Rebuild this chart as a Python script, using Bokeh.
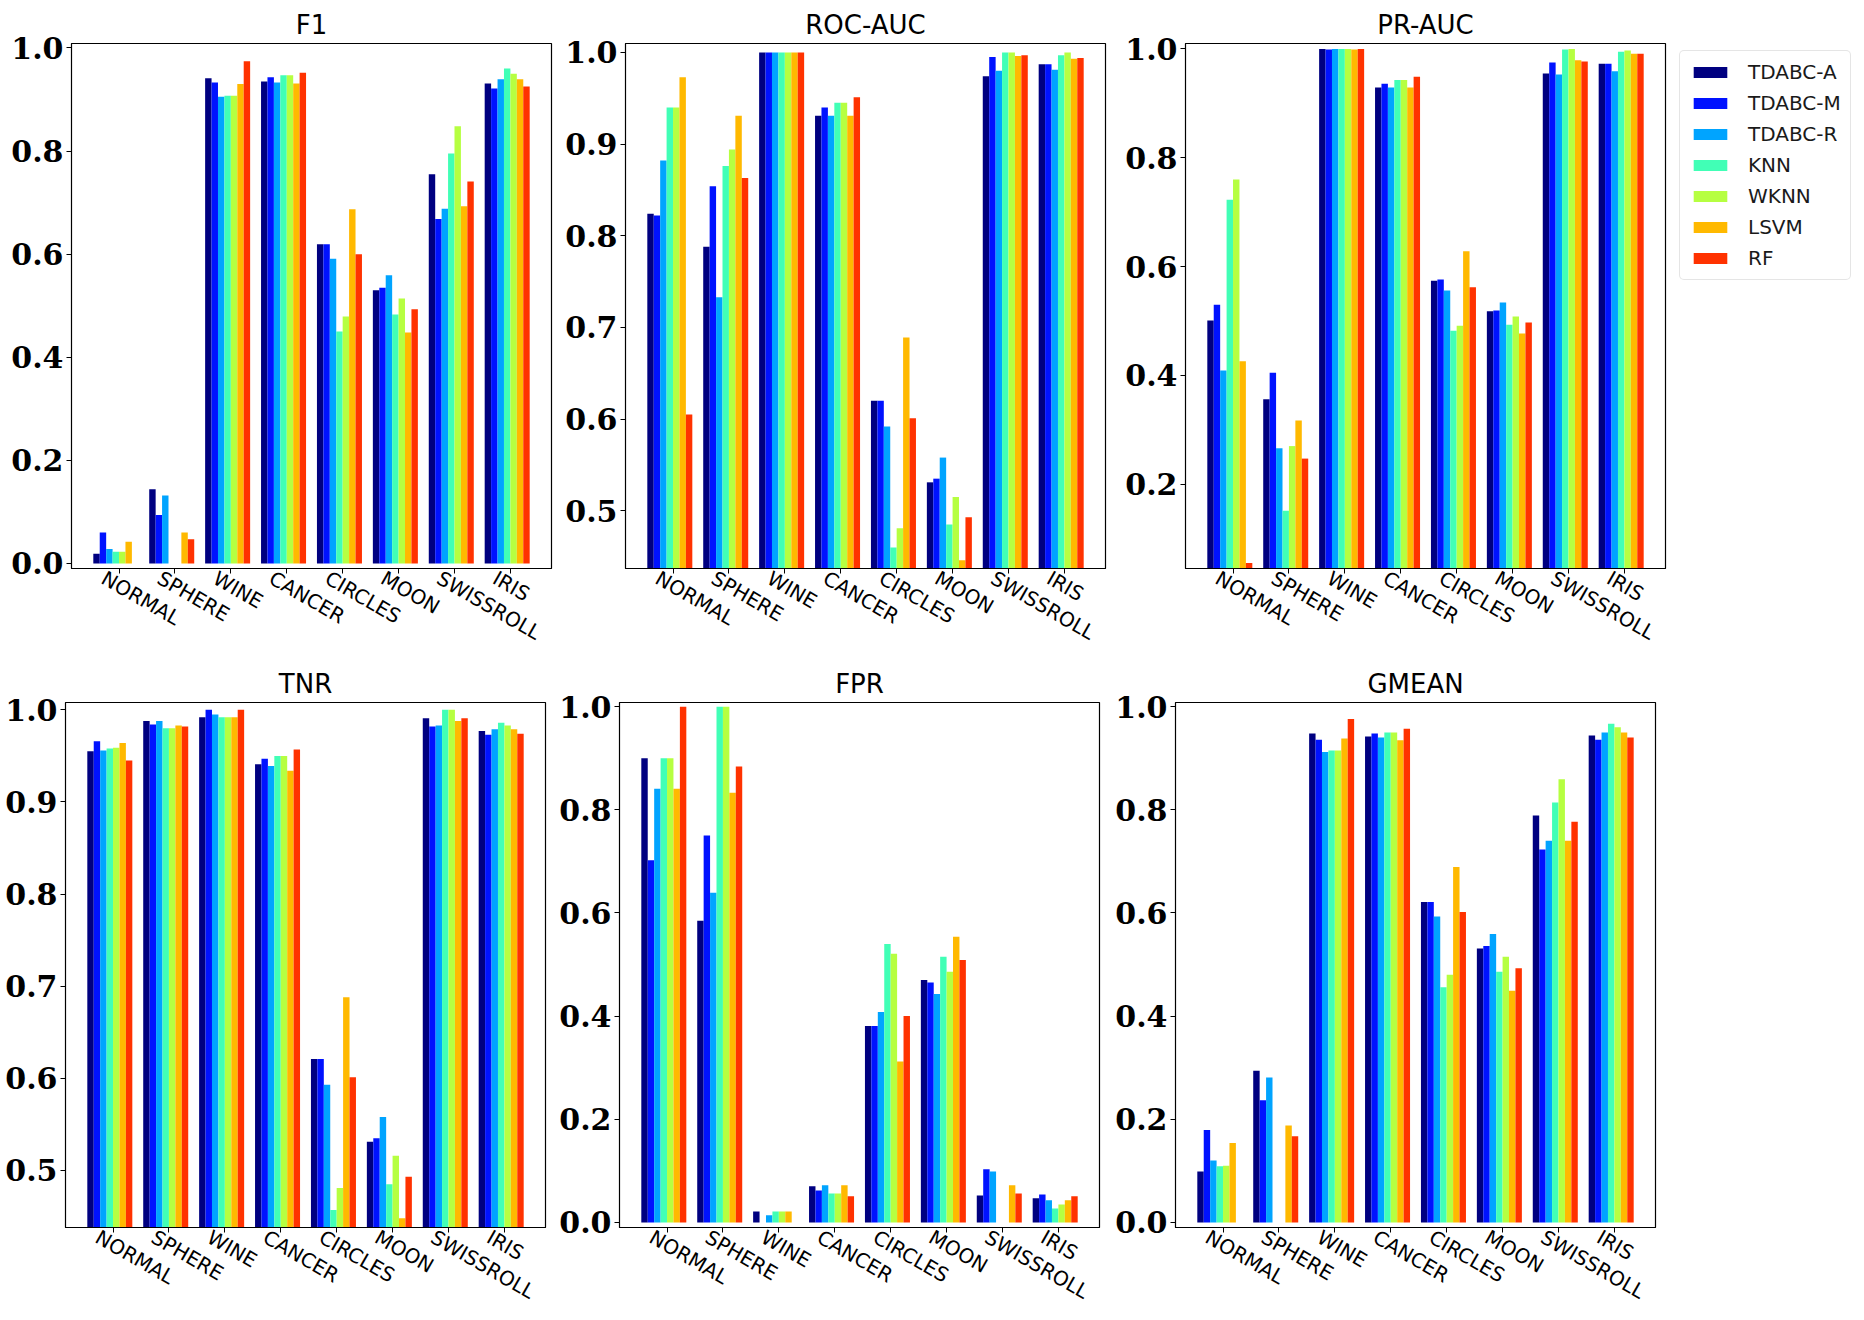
import math
from bokeh.plotting import figure
from bokeh.models import (ColumnDataSource, FixedTicker, PrintfTickFormatter,
                          Range1d, Legend, LegendItem)
from bokeh.layouts import row, column
from bokeh.embed import file_html
from bokeh.resources import INLINE

datasets = ["NORMAL", "SPHERE", "WINE", "CANCER", "CIRCLES", "MOON", "SWISSROLL", "IRIS"]
methods = ["TDABC-A", "TDABC-M", "TDABC-R", "KNN", "WKNN", "LSVM", "RF"]
colors = ["#000080", "#0012ff", "#00a4ff", "#41ffb6", "#b6ff41", "#ffb900", "#ff3200"]

# rows: datasets; columns: methods (TDABC-A, TDABC-M, TDABC-R, KNN, WKNN, LSVM, RF)
F1 = [
    [0.019, 0.060, 0.028, 0.023, 0.023, 0.042, 0.000],
    [0.144, 0.094, 0.132, 0.000, 0.000, 0.060, 0.047],
    [0.941, 0.933, 0.905, 0.907, 0.907, 0.930, 0.974],
    [0.935, 0.943, 0.933, 0.947, 0.947, 0.931, 0.952],
    [0.619, 0.619, 0.591, 0.450, 0.479, 0.687, 0.600],
    [0.530, 0.535, 0.559, 0.483, 0.514, 0.448, 0.493],
    [0.755, 0.668, 0.688, 0.795, 0.848, 0.693, 0.741],
    [0.931, 0.921, 0.939, 0.960, 0.950, 0.939, 0.925],
]
ROC_AUC = [
    [0.824, 0.822, 0.882, 0.940, 0.940, 0.973, 0.605],
    [0.788, 0.854, 0.733, 0.876, 0.894, 0.931, 0.863],
    [1.000, 1.000, 1.000, 1.000, 1.000, 1.000, 1.000],
    [0.931, 0.940, 0.931, 0.945, 0.945, 0.931, 0.951],
    [0.620, 0.620, 0.592, 0.460, 0.481, 0.689, 0.601],
    [0.531, 0.535, 0.558, 0.485, 0.515, 0.446, 0.493],
    [0.974, 0.995, 0.980, 1.000, 1.000, 0.996, 0.997],
    [0.987, 0.987, 0.981, 0.997, 1.000, 0.993, 0.994],
]
PR_AUC = [
    [0.501, 0.530, 0.409, 0.723, 0.760, 0.426, 0.055],
    [0.356, 0.405, 0.266, 0.151, 0.270, 0.317, 0.247],
    [1.000, 0.999, 1.000, 1.000, 1.000, 0.999, 1.000],
    [0.929, 0.936, 0.929, 0.943, 0.943, 0.929, 0.949],
    [0.574, 0.576, 0.556, 0.482, 0.491, 0.628, 0.562],
    [0.518, 0.519, 0.534, 0.493, 0.508, 0.477, 0.497],
    [0.955, 0.975, 0.953, 0.999, 1.000, 0.979, 0.977],
    [0.973, 0.973, 0.959, 0.995, 0.997, 0.991, 0.991],
]
TNR = [
    [0.955, 0.966, 0.956, 0.958, 0.959, 0.964, 0.945],
    [0.988, 0.984, 0.988, 0.980, 0.980, 0.983, 0.982],
    [0.992, 1.000, 0.995, 0.992, 0.992, 0.992, 1.000],
    [0.941, 0.947, 0.939, 0.950, 0.950, 0.934, 0.957],
    [0.621, 0.621, 0.593, 0.457, 0.481, 0.688, 0.601],
    [0.531, 0.535, 0.558, 0.485, 0.516, 0.448, 0.493],
    [0.991, 0.982, 0.983, 1.000, 1.000, 0.988, 0.991],
    [0.977, 0.973, 0.979, 0.986, 0.983, 0.979, 0.974],
]
FPR = [
    [0.900, 0.702, 0.841, 0.900, 0.900, 0.841, 1.000],
    [0.585, 0.750, 0.639, 1.000, 1.000, 0.833, 0.884],
    [0.021, 0.000, 0.014, 0.021, 0.021, 0.021, 0.000],
    [0.070, 0.062, 0.072, 0.056, 0.056, 0.072, 0.051],
    [0.381, 0.381, 0.408, 0.540, 0.521, 0.312, 0.400],
    [0.470, 0.465, 0.443, 0.515, 0.486, 0.554, 0.509],
    [0.052, 0.103, 0.099, 0.000, 0.000, 0.072, 0.056],
    [0.047, 0.054, 0.043, 0.027, 0.035, 0.043, 0.051],
]
GMEAN = [
    [0.099, 0.179, 0.120, 0.109, 0.110, 0.154, 0.000],
    [0.294, 0.237, 0.281, 0.000, 0.000, 0.188, 0.167],
    [0.948, 0.936, 0.912, 0.915, 0.915, 0.938, 0.976],
    [0.942, 0.948, 0.940, 0.950, 0.950, 0.935, 0.957],
    [0.621, 0.621, 0.593, 0.456, 0.480, 0.689, 0.602],
    [0.531, 0.536, 0.559, 0.486, 0.515, 0.449, 0.493],
    [0.789, 0.723, 0.740, 0.814, 0.859, 0.740, 0.777],
    [0.944, 0.936, 0.950, 0.967, 0.960, 0.950, 0.940],
]

ticks_01 = [0.0, 0.2, 0.4, 0.6, 0.8, 1.0]
ticks_05 = [0.5, 0.6, 0.7, 0.8, 0.9, 1.0]
ticks_pr = [0.2, 0.4, 0.6, 0.8, 1.0]

W = 0.115          # bar width (data units)
SH = 0.28125       # tick mark offset to the right of label anchor
X_START = SH - 4 * W - 0.39
X_END = SH + 7 + 3 * W + 0.39


def make_panel(title, values, y0, y1, yticks, left, right, top, bottom, legend=False):
    p = figure(frame_width=480, frame_height=525,
               x_range=Range1d(X_START, X_END), y_range=Range1d(y0, y1),
               output_backend="svg", toolbar_location=None,
               min_border_left=left, min_border_right=right,
               min_border_top=top, min_border_bottom=bottom)
    p.background_fill_color = "white"
    p.border_fill_color = "white"
    p.outline_line_color = "black"
    p.outline_line_width = 1.2
    p.outline_line_alpha = 1.0
    p.xgrid.visible = False
    p.ygrid.visible = False

    p.title.text = title
    p.title.align = "center"
    p.title.text_font = "DejaVu Sans"
    p.title.text_font_size = "26px"
    p.title.text_font_style = "normal"
    p.title.text_color = "black"
    p.title.standoff = 7

    rends = []
    n = len(datasets)
    for j, m in enumerate(methods):
        xs = [i + SH + (j - 3.5) * W for i in range(n)]
        tops = [values[i][j] for i in range(n)]
        src = ColumnDataSource(dict(x=xs, top=tops))
        r = p.vbar(x="x", top="top", bottom=0, width=W, source=src,
                   fill_color=colors[j], line_color=None)
        rends.append(r)

    # category labels at integer positions; visible tick marks (minor) shifted right
    xa = p.xaxis[0]
    xa.ticker = FixedTicker(ticks=list(range(n)), minor_ticks=[i + SH for i in range(n)])
    xa.major_label_overrides = {i: d for i, d in enumerate(datasets)}
    xa.major_label_orientation = -math.pi / 6
    xa.major_label_text_font = "DejaVu Sans"
    xa.major_label_text_font_size = "20px"
    xa.major_label_text_color = "black"
    xa.major_label_standoff = 3
    xa.major_tick_out = 5
    xa.major_tick_in = 0
    xa.major_tick_line_color = None
    xa.minor_tick_out = 5
    xa.minor_tick_in = 0
    xa.minor_tick_line_color = "black"
    xa.minor_tick_line_width = 1
    xa.axis_line_color = "black"

    ya = p.yaxis[0]
    ya.ticker = FixedTicker(ticks=yticks)
    ya.formatter = PrintfTickFormatter(format="%.1f")
    ya.major_label_text_font = "DejaVu Serif"
    ya.major_label_text_font_style = "bold"
    ya.major_label_text_font_size = "30px"
    ya.major_label_standoff = 3
    ya.major_tick_out = 5
    ya.major_tick_in = 0
    ya.minor_tick_line_color = None
    ya.axis_line_color = "black"
    ya.major_tick_line_color = "black"
    ya.major_label_text_color = "black"

    if legend:
        items = [LegendItem(label=m, renderers=[r]) for m, r in zip(methods, rends)]
        lg = Legend(items=items, location=(14, 288), orientation="vertical")
        lg.margin = 0
        lg.padding = 9
        lg.spacing = 7
        lg.glyph_width = 42
        lg.glyph_height = 14
        lg.label_standoff = 17
        lg.label_text_font = "DejaVu Sans"
        lg.label_text_font_size = "20px"
        lg.label_text_color = "#1a1a1a"
        lg.border_line_color = "#cccccc"
        lg.border_line_width = 1.5
        lg.background_fill_color = "white"
        lg.background_fill_alpha = 1.0
        if "border_radius" in Legend.properties():
            lg.border_radius = 5
        p.add_layout(lg, "right")
    return p


p1 = make_panel("F1", F1, -0.0097, 1.0085, ticks_01, 71, 11, 43, 95)
p2 = make_panel("ROC-AUC", ROC_AUC, 0.437, 1.0097, ticks_05, 62, 17, 43, 95)
p3 = make_panel("PR-AUC", PR_AUC, 0.045, 1.01, ticks_pr, 63, 184, 43, 95, legend=True)
p4 = make_panel("TNR", TNR, 0.438, 1.008, ticks_05, 65, 11, 37, 90)
p5 = make_panel("FPR", FPR, -0.0098, 1.008, ticks_01, 62, 13, 37, 90)
p6 = make_panel("GMEAN", GMEAN, -0.0098, 1.008, ticks_01, 63, 184, 37, 90)

layout = column(row(p1, p2, p3), row(p4, p5, p6))

with open("out.html", "w") as f:
    f.write(file_html(layout, INLINE, title="metrics"))
